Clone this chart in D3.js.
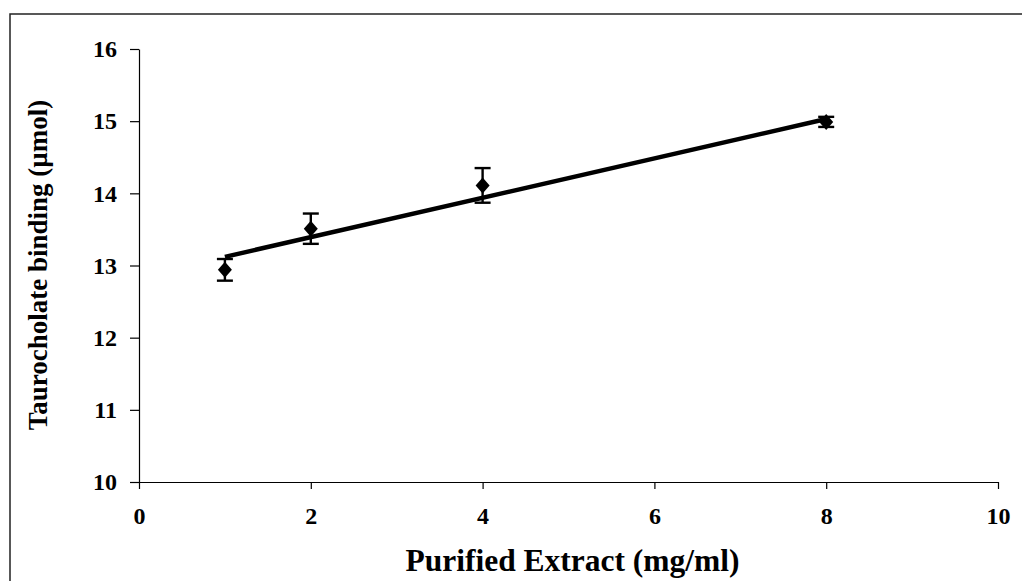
<!DOCTYPE html>
<html>
<head>
<meta charset="utf-8">
<script src="https://cdn.jsdelivr.net/npm/d3@7"></script>
<style>
    body { margin: 0; background: #fff; }
    svg { display: block; }
    text { font-family: "Liberation Serif", "Times New Roman", serif; font-weight: bold; fill: #000; }
</style>
</head>
<body>
<svg width="1028" height="581"></svg>
<script>
// Data
const extract = [1, 2, 4, 8];                    // mg/ml
const binding = [12.94, 13.51, 14.11, 14.99];    // µmol
const errors = [0.15, 0.21, 0.24, 0.07];
const trendX = [1, 8];                           // fitted line, as drawn
const trendY = [13.12, 15.03];
const xTicks = [0, 2, 4, 6, 8, 10];
const yTicks = [10, 11, 12, 13, 14, 15, 16];

const margin = { top: 49, right: 30, bottom: 99, left: 139 };
const width = 998 - margin.left;
const height = 482 - margin.top;

const root = d3.select("svg");

// outer frame (top and left edges of the scanned figure)
root.append("path")
    .attr("d", "M10,581 L10,14 L1022,14")
    .attr("fill", "none")
    .attr("stroke", "#222")
    .attr("stroke-width", 1.5);

const svg = root.append("g")
    .attr("transform", `translate(${margin.left},${margin.top})`);

const x = d3.scaleLinear().domain([0, 10]).range([0, width]);
const y = d3.scaleLinear().domain([10, 16]).range([height, 0]);

// axes
const gx = svg.append("g")
    .attr("transform", `translate(0,${height})`)
    .call(d3.axisBottom(x).tickValues(xTicks).tickFormat(d3.format("d"))
        .tickSize(7).tickPadding(18).tickSizeOuter(0));

const gy = svg.append("g")
    .call(d3.axisLeft(y).tickValues(yTicks).tickFormat(d3.format("d"))
        .tickSize(9).tickPadding(13).tickSizeOuter(0));

[gx, gy].forEach(g => {
    g.select(".domain").attr("stroke", "#000").attr("stroke-width", 1.2);
    g.selectAll(".tick line").attr("stroke", "#000").attr("stroke-width", 1.2);
    g.selectAll(".tick text")
        .attr("fill", "#000")
        .style("font-size", "24px")
        .style("font-family", "'Liberation Serif', serif")
        .style("font-weight", "bold");
});

// linear trend line
svg.append("line")
    .attr("x1", x(trendX[0]))
    .attr("y1", y(trendY[0]))
    .attr("x2", x(trendX[1]))
    .attr("y2", y(trendY[1]))
    .attr("stroke", "#000")
    .attr("stroke-width", 4.5);

const pts = extract.map((d, i) => ({ x: d, y: binding[i], e: errors[i] }));

// error bars
const eb = svg.append("g").selectAll("g")
    .data(pts)
    .join("g")
    .attr("stroke", "#000")
    .attr("stroke-width", 2.4);

eb.append("line")
    .attr("x1", d => x(d.x)).attr("x2", d => x(d.x))
    .attr("y1", d => y(d.y + d.e)).attr("y2", d => y(d.y - d.e));
eb.append("line")
    .attr("x1", d => x(d.x) - 8).attr("x2", d => x(d.x) + 8)
    .attr("y1", d => y(d.y + d.e)).attr("y2", d => y(d.y + d.e));
eb.append("line")
    .attr("x1", d => x(d.x) - 8).attr("x2", d => x(d.x) + 8)
    .attr("y1", d => y(d.y - d.e)).attr("y2", d => y(d.y - d.e));

// diamond markers
svg.append("g").selectAll("path")
    .data(pts)
    .join("path")
    .attr("transform", d => `translate(${x(d.x)},${y(d.y)})`)
    .attr("d", "M0,-8 L7,0 L0,8 L-7,0 Z")
    .attr("fill", "#000");

// axis titles
svg.append("text")
    .attr("x", width / 2 + 4)
    .attr("y", height + 89)
    .attr("text-anchor", "middle")
    .style("font-size", "31.5px")
    .text("Purified Extract (mg/ml)");

svg.append("text")
    .attr("transform", "rotate(-90)")
    .attr("x", -(265 - margin.top))
    .attr("y", -92)
    .attr("text-anchor", "middle")
    .style("font-size", "27px")
    .text("Taurocholate binding (µmol)");
</script>
</body>
</html>
